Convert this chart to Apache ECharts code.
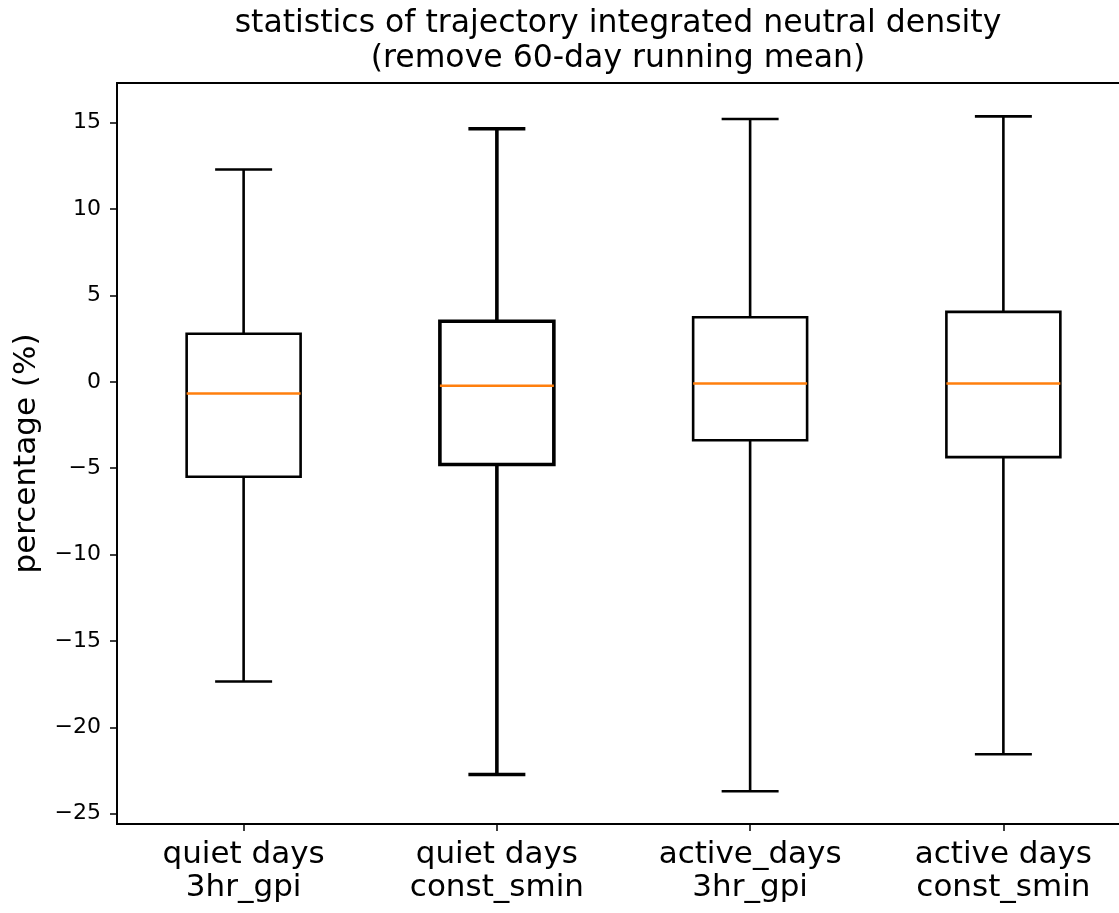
<!DOCTYPE html>
<html>
<head>
<meta charset="utf-8">
<script src="https://cdn.jsdelivr.net/npm/echarts@6/dist/echarts.min.js"></script>
<style>html,body{margin:0;padding:0;background:#fff;}#chart{width:1119px;height:913px;}</style>
</head>
<body>
<div id="chart"></div>
<script>
// ---- data ----
const categories = ['quiet days\n3hr_gpi', 'quiet days\nconst_smin', 'active_days\n3hr_gpi', 'active days\nconst_smin'];
const whiskerLow  = [-17.35, -22.73, -23.70, -21.56];
const q1          = [-5.50, -4.79, -3.38, -4.36];
const median      = [-0.68, -0.23, -0.10, -0.10];
const q3          = [2.78, 3.51, 3.74, 4.05];
const whiskerHigh = [12.29, 14.65, 15.22, 15.37];
const yTicks      = [-25, -20, -15, -10, -5, 0, 5, 10, 15];
const titleText   = 'statistics of trajectory integrated neutral density\n(remove 60-day running mean)';
const yName       = 'percentage (%)';

// styles
const boxLineWidths = [2.6, 3.6, 2.6, 2.6];
const FONT = 'DejaVu Sans';

const seriesData = categories.map((c, i) => [i, whiskerLow[i], q1[i], median[i], q3[i], whiskerHigh[i], boxLineWidths[i]]);

function renderItem(params, api) {
  const i = api.value(0);
  const lo = api.coord([i, api.value(1)]);
  const b1 = api.coord([i, api.value(2)]);
  const md = api.coord([i, api.value(3)]);
  const b3 = api.coord([i, api.value(4)]);
  const hi = api.coord([i, api.value(5)]);
  const lw = api.value(6);
  const band = api.size([1, 0])[0];
  const hw = band * 0.225;
  const cw = band * 0.1125;
  const x = lo[0];
  const black = {stroke: '#000', lineWidth: lw, fill: null};
  return {
    type: 'group',
    children: [
      {type: 'line', shape: {x1: x, y1: b1[1], x2: x, y2: lo[1]}, style: black},
      {type: 'line', shape: {x1: x, y1: b3[1], x2: x, y2: hi[1]}, style: black},
      {type: 'line', shape: {x1: x - cw, y1: lo[1], x2: x + cw, y2: lo[1]}, style: black},
      {type: 'line', shape: {x1: x - cw, y1: hi[1], x2: x + cw, y2: hi[1]}, style: black},
      {type: 'rect', shape: {x: x - hw, y: b3[1], width: 2 * hw, height: b1[1] - b3[1]}, style: {stroke: '#000', lineWidth: lw, fill: 'none'}},
      {type: 'line', shape: {x1: x - hw, y1: md[1], x2: x + hw, y2: md[1]}, style: {stroke: '#ff7f0e', lineWidth: 2.6}}
    ]
  };
}

const chart = echarts.init(document.getElementById('chart'), null, {renderer: 'canvas'});
chart.setOption({
  animation: false,
  backgroundColor: '#fff',
  textStyle: {fontFamily: FONT},
  grid: {left: 117, top: 83, width: 1013, height: 741, outerBoundsMode: 'none', containLabel: false,
    show: true, borderColor: '#000', borderWidth: 1.8, backgroundColor: 'transparent'},
  graphic: [
    {type: 'text', x: 618, y: 6, style: {text: titleText, textAlign: 'center', font: '31.5px "DejaVu Sans"', lineHeight: 35, fill: '#000'}, z: 10},
  ],
  xAxis: {
    type: 'category',
    data: categories,
    boundaryGap: true,
    axisLine: {show: true, onZero: false, lineStyle: {color: '#000', width: 1.8}},
    axisTick: {show: true, alignWithLabel: true, length: 7, lineStyle: {color: '#000', width: 1.5}},
    axisLabel: {color: '#000', fontSize: 31, fontFamily: FONT, lineHeight: 33, margin: 14, interval: 0},
    splitLine: {show: false}
  },
  yAxis: {
    type: 'value',
    min: -25.6,
    max: 17.3,
    name: yName,
    nameLocation: 'middle',
    nameGap: 75,
    nameTextStyle: {color: '#000', fontSize: 31, fontFamily: FONT},
    axisLine: {show: true, lineStyle: {color: '#000', width: 1.8}},
    axisTick: {show: true, length: 7, customValues: yTicks, lineStyle: {color: '#000', width: 1.5}},
    axisLabel: {color: '#000', fontSize: 22, fontFamily: FONT, margin: 16, customValues: yTicks,
      formatter: v => String(v).replace('-', '\u2212')},
    splitLine: {show: false}
  },
  series: [{
    type: 'custom',
    renderItem: renderItem,
    encode: {x: 0, y: [1, 2, 3, 4, 5]},
    data: seriesData,
    clip: false
  }]
});
</script>
</body>
</html>
